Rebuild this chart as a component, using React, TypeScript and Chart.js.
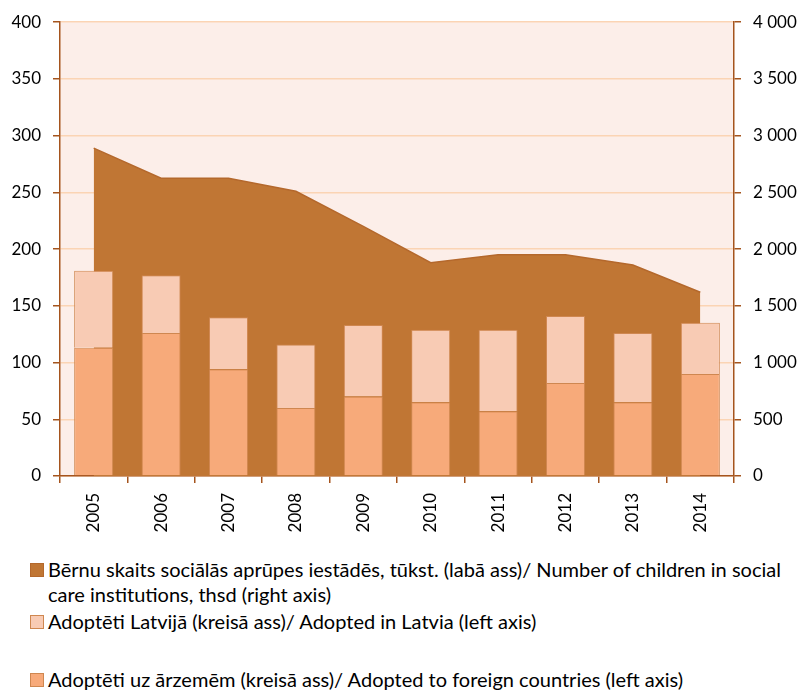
import React, { useEffect, useRef } from 'react';
import { Chart, registerables } from 'chart.js';

Chart.register(...registerables);

const years = ['2005', '2006', '2007', '2008', '2009', '2010', '2011', '2012', '2013', '2014'];
const childrenInCare = [2890, 2625, 2625, 2510, 2200, 1880, 1950, 1950, 1860, 1620];
const adoptedForeign = [113, 126, 94, 60, 70, 65, 57, 82, 65, 90];
const adoptedLatvia = [68, 51, 46, 56, 63, 64, 72, 59, 61, 45];

const legendLabels = [
  'Bērnu skaits sociālās aprūpes iestādēs, tūkst. (labā ass)/ Number of children in social',
  'care institutions, thsd (right axis)',
  'Adoptēti Latvijā (kreisā ass)/ Adopted in Latvia (left axis)',
  'Adoptēti uz ārzemēm (kreisā ass)/ Adopted to foreign countries (left axis)',
];

const AREA = '#C07634';
const AREA_LINE = '#B4682C';
const LIGHT = '#F8CBB4';
const DARK = '#F7AA7A';
const BAR_BORDER = '#CF8750';
const BG = '#FCEEE9';
const GRID = '#FBD4B4';
const AXIS = '#A5541D';
const FONT = 'Lato, "Open Sans", sans-serif';

const W = 805;
const H = 545;

const bgPlugin = {
  id: 'plotBg',
  beforeDraw(chart: any) {
    const { ctx, chartArea } = chart;
    ctx.save();
    ctx.fillStyle = BG;
    ctx.fillRect(chartArea.left, chartArea.top, chartArea.right - chartArea.left, chartArea.bottom - chartArea.top);
    ctx.restore();
  },
};

function fmt(v: number) {
  return String(v).replace(/\B(?=(\d{3})+(?!\d))/g, ' ');
}

export default function App() {
  const ref = useRef<HTMLCanvasElement>(null);

  useEffect(() => {
    if (!ref.current) return;
    const chart = new Chart(ref.current, {
      type: 'bar',
      data: {
        labels: years,
        datasets: [
          {
            type: 'bar',
            label: legendLabels[3],
            data: adoptedForeign,
            backgroundColor: DARK,
            borderColor: BAR_BORDER,
            borderWidth: 1,
            yAxisID: 'y',
            stack: 's',
            order: 1,
            categoryPercentage: 1,
            barPercentage: 0.58,
          } as any,
          {
            type: 'bar',
            label: legendLabels[2],
            data: adoptedLatvia,
            backgroundColor: LIGHT,
            borderColor: BAR_BORDER,
            borderWidth: 1,
            yAxisID: 'y',
            stack: 's',
            order: 1,
            categoryPercentage: 1,
            barPercentage: 0.58,
          } as any,
          {
            type: 'line',
            label: legendLabels[0],
            data: childrenInCare,
            backgroundColor: AREA,
            borderColor: AREA_LINE,
            borderWidth: 1.5,
            fill: 'origin',
            pointRadius: 0,
            tension: 0,
            yAxisID: 'y1',
            order: 2,
          } as any,
        ],
      },
      options: {
        responsive: false,
        animation: false,
        devicePixelRatio: 1,
        layout: { padding: { top: 10, left: 0, right: 0, bottom: 0 } },
        plugins: {
          legend: { display: false },
          tooltip: { enabled: false },
        },
        scales: {
          x: {
            stacked: true,
            offset: true,
            grid: {
              offset: true,
              drawOnChartArea: false,
              color: AXIS,
              lineWidth: 1.5,
              tickLength: 7,
            },
            border: { color: AXIS, width: 1.5 },
            ticks: {
              minRotation: 90,
              maxRotation: 90,
              color: '#000',
              font: { family: FONT, size: 17 },
              padding: 10,
            },
            afterFit(scale: any) {
              scale.height = H - 476;
            },
          },
          y: {
            stacked: true,
            position: 'left',
            min: 0,
            max: 400,
            ticks: {
              stepSize: 50,
              color: '#000',
              font: { family: FONT, size: 17 },
              padding: 12,
            },
            grid: {
              color: GRID,
              lineWidth: 1.5,
              tickColor: AXIS,
              tickLength: 7,
            },
            border: { color: AXIS, width: 1.5 },
            afterFit(scale: any) {
              scale.width = 60;
            },
          },
          y1: {
            position: 'right',
            min: 0,
            max: 4000,
            ticks: {
              stepSize: 500,
              color: '#000',
              font: { family: FONT, size: 17 },
              padding: 12,
              callback: (v: any) => fmt(Number(v)),
            },
            grid: {
              drawOnChartArea: false,
              color: AXIS,
              lineWidth: 1.5,
              tickLength: 7,
            },
            border: { color: AXIS, width: 1.5 },
            afterFit(scale: any) {
              scale.width = 71;
            },
          },
        },
      } as any,
      plugins: [bgPlugin],
    });
    return () => chart.destroy();
  }, []);

  const sq = (color: string, border: string): React.CSSProperties => ({
    position: 'absolute',
    left: 30,
    width: 12,
    height: 12,
    background: color,
    border: `1px solid ${border}`,
  });
  const txt: React.CSSProperties = {
    position: 'absolute',
    left: 48,
    fontFamily: FONT,
    fontSize: 20,
    lineHeight: '25px',
    color: '#000',
    whiteSpace: 'nowrap',
  };

  return (
    <div style={{ position: 'absolute', left: 0, top: 0, width: W, height: 690, background: '#fff', overflow: 'hidden' }}>
      <canvas ref={ref} width={W} height={H} style={{ position: 'absolute', left: 0, top: 0, width: W, height: H }} />
      <div style={{ ...sq(AREA, AREA_LINE), top: 563 }} />
      <div style={{ ...txt, top: 557 }}>
        {legendLabels[0]}
        <br />
        {legendLabels[1]}
      </div>
      <div style={{ ...sq(LIGHT, BAR_BORDER), top: 615 }} />
      <div style={{ ...txt, top: 609 }}>{legendLabels[2]}</div>
      <div style={{ ...sq(DARK, BAR_BORDER), top: 673 }} />
      <div style={{ ...txt, top: 667 }}>{legendLabels[3]}</div>
    </div>
  );
}
